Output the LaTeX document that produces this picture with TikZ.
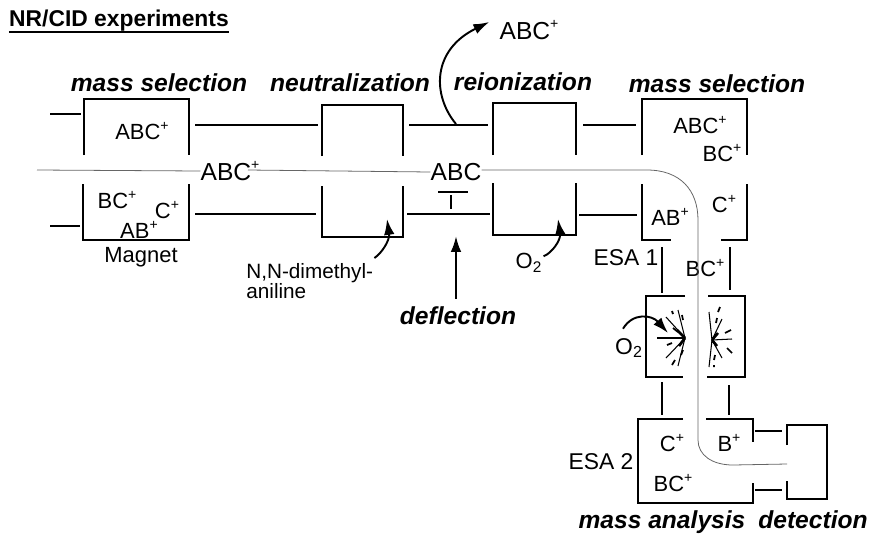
\documentclass[tikz,border=0pt]{standalone}
\usepackage{fontspec}
\setmainfont{Liberation Sans}
\usepackage{tikz}
\usetikzlibrary{arrows.meta,calc}
\newcommand{\ionplus}[1]{#1\raisebox{0.42em}{\footnotesize +}}
\newcommand{\Otwo}{O\textsubscript{2}}

\begin{document}
\begin{tikzpicture}[
		x=0.02cm, y=-0.02cm,
		>={Latex[length=9pt,width=6pt]},
		wall/.style={draw, line width=1.1pt},
		link/.style={draw, line width=1pt},
		beam/.style={draw, black!60, line width=0.45pt},
		ray/.style={draw, line width=0.6pt},
		spark/.style={draw, line width=1pt},
		curved/.style={->, line width=1.1pt},
		lab/.style={inner sep=0pt, font=\fontsize{12.5}{14}\selectfont},
		big/.style={inner sep=0pt, font=\fontsize{13}{15}\selectfont},
		stage/.style={inner sep=0pt, font=\fontsize{14}{16}\selectfont\bfseries\itshape}
		]
		\useasboundingbox (0,0) rectangle (873,535);
		
		% Title
		\node[inner sep=0pt, font=\fontsize{13}{15}\selectfont\bfseries] (title) at (119,21) {NR/CID experiments};
		\draw[line width=0.9pt] (title.south west |- 0,32) -- (title.south east |- 0,32);
		
		% -------------------------
		% Stage names
		% -------------------------
		\node[stage] (sel1) at (159,83) {mass selection};
		\node[stage] (neu) at (350,83) {neutralization};
		\node[stage] (rei) at (523,82) {reionization};
		\node[stage] (sel2) at (717,84) {mass selection};
		\node[stage] (defl) at (458,316) {deflection};
		\node[stage, anchor=base] (ana) at (662,528) {mass analysis};
		\node[stage, anchor=base] (det) at (813,528) {detection};
		
		% -------------------------
		% Upper and lower halves of the sectors
		% -------------------------
		\draw[wall] (84,155) -- (84,99) -- (189,99) -- (189,155);
		\draw[wall] (83,184) -- (83,240) -- (189,240) -- (189,184);
		\draw[wall] (322,156) -- (322,105) -- (403,105) -- (403,156);
		\draw[wall] (322,186) -- (322,237) -- (403,237) -- (403,186);
		\draw[wall] (493,155) -- (493,103) -- (576,103) -- (576,155);
		\draw[wall] (493,183) -- (493,235) -- (576,235) -- (576,183);
		\draw[wall] (642,155) -- (642,99) -- (747,99) -- (747,155);
		\draw[wall] (642,184) -- (642,240) -- (671,240);
		\draw[wall] (721,240) -- (747,240) -- (747,184);
		
		% Collision cell
		\draw[wall] (685,296) -- (646,296) -- (646,377) -- (683,377);
		\draw[wall] (708,296) -- (745,296) -- (745,377) -- (707,377);
		
		% ESA 2 and detector
		\draw[wall] (683,419) -- (638,419) -- (638,503) -- (753,503) -- (753,483);
		\draw[wall] (706,419) -- (753,419) -- (753,442);
		\draw[wall] (787,445) -- (787,425) -- (827,425) -- (827,499) -- (787,499) -- (787,481);
		
		% -------------------------
		% Flight tube between sectors
		% -------------------------
		\draw[link] (50,114) -- (81,114);
		\draw[link] (50,226) -- (80,226);
		\draw[link] (195,125) -- (318,125);
		\draw[link] (195,214) -- (316,214);
		\draw[link] (409,125) -- (488,125);
		\draw[link] (407,214) -- (490,214);
		\draw[link] (583,125) -- (636,125);
		\draw[link] (579,215) -- (637,215);
		\draw[link] (662,247) -- (662,293);
		\draw[link] (730,247) -- (730,290);
		\draw[link] (662,382) -- (662,415);
		\draw[link] (729,385) -- (729,415);
		\draw[link] (755,431) -- (782,431);
		\draw[link] (755,490) -- (782,490);
		
		% Deflection plate
		\draw[line width=1.1pt] (438,192) -- (468,192);
		\draw[line width=1.1pt] (451,195) -- (451,209);
		
		% -------------------------
		% Labels
		% -------------------------
		\node[lab, font=\fontsize{14}{16}\selectfont] (abcout) at (529,30) {\ionplus{ABC}};
		\node[lab] (abcA) at (142,131) {\ionplus{ABC}};
		\node[lab] (bcA) at (117,200) {\ionplus{BC}};
		\node[lab] (cA) at (167,210) {\ionplus{C}};
		\node[lab] (abA) at (139,230) {\ionplus{AB}};
		\node[lab] (magnet) at (141,257) {Magnet};
		\node[inner sep=0pt, font=\fontsize{11.8}{11.5}\selectfont, align=left, anchor=north west] (amine) at (246,263) {N,N-dimethyl-\\aniline};
		\node[lab] (oxR) at (529,263) {\Otwo};
		\node[lab] (abcB) at (700,125) {\ionplus{ABC}};
		\node[lab] (bcB) at (722,153) {\ionplus{BC}};
		\node[lab] (cB) at (724,204) {\ionplus{C}};
		\node[lab] (abB) at (670,217) {\ionplus{AB}};
		\node[big] (esaA) at (626,258) {ESA 1};
		\node[lab] (bcC) at (705,268) {\ionplus{BC}};
		\node[big] (oxC) at (629,348) {\Otwo};
		\node[lab] (cC) at (672,443) {\ionplus{C}};
		\node[lab] (bC) at (729,443) {\ionplus{B}};
		\node[big] (esaB) at (601,462) {ESA 2};
		\node[lab] (bcD) at (673,483) {\ionplus{BC}};
		
		% Ion beam
		\node[lab, font=\fontsize{14}{16}\selectfont] (ionbeam) at (230,171) {\ionplus{ABC}};
		\node[lab, font=\fontsize{14}{16}\selectfont] (neutral) at (456,172) {ABC};
		\draw[beam] (37,170) -- (ionbeam.west);
		\draw[beam] (ionbeam.center) ++(18,-1) -- (neutral.west);
		\draw[beam] (neutral.east) ++(0,-2) -- (647,170) .. controls (680,170) and (698,190) .. (698,220)
			-- (698,440) .. controls (698,455) and (712,465) .. (733,465) -- (787,464);
		
		% -------------------------
		% Arrows
		% -------------------------
		\draw[curved] (456,124) .. controls (432,95) and (432,50) .. ($(abcout.west)+(-10,-8)$);
		\draw[curved] (amine.north east) ++(1,-5) .. controls (382,253) and (390,240) .. (387,219);
		\draw[curved] (oxR.north east) ++(1,3) .. controls (552,253) and (561,240) .. (558,219);
		\draw[curved] (oxC.north) ++(-6,-9) .. controls (633,312) and (652,315) .. (668,333);
		\draw[->, line width=1.3pt] ($(defl.north)+(-2,-8)$) -- (456,236);
		
		% -------------------------
		% Fragmentation in the cell
		% -------------------------
		\draw[link] (685,338) -- (657,338);
		\draw[ray] (685,338) -- (666,317) (685,338) -- (678,310) (685,338) -- (666,358) (685,338) -- (678,366);
		\draw[spark] (672,311) -- (673,314) (682,315) -- (683,320) (673,328) -- (678,332) (667,345) -- (672,343)
			(681,355) -- (683,350) (672,365) -- (675,360);
		\draw[line width=1.5pt] (685,338) -- (677,330) (685,338) -- (679,346);
		\draw[ray] (712,340) -- (732,339) (712,340) -- (709,312) (712,340) -- (722,319) (712,340) -- (722,358) (712,340) -- (709,367);
		\draw[spark] (720,307) -- (718,312) (717,318) -- (716,323) (725,333) -- (731,330)
			(727,348) -- (732,353) (715,355) -- (714,360) (714,365) -- (714,367);
		\draw[line width=1.5pt] (712,340) -- (718,333) (712,340) -- (717,346);
		
	\end{tikzpicture}
\end{document}
